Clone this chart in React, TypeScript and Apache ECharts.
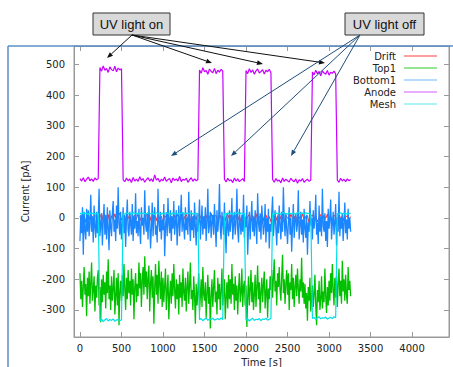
import React, { useEffect, useRef } from "react";
import * as echarts from "echarts";

// sampling steps of the recorded traces, seconds
const SAMPLE_STEP = 20;
const DENSE_STEP = 10;

const seriesNames = ["Drift", "Top1", "Bottom1", "Anode", "Mesh"];
const seriesColors = ["#ff2020", "#00c000", "#1a86ff", "#c800ff", "#00e0e8"];
const legendColors = ["#ff8080", "#70dd70", "#9fcfff", "#e090ff", "#90f0f0"];
const seriesWidths = [1, 1.3, 1.3, 1.2, 1.2];

const xTicks = [0, 500, 1000, 1500, 2000, 2500, 3000, 3500, 4000];
const yTicks = [-300, -200, -100, 0, 100, 200, 300, 400, 500];

// 20 s sampling
const drift = [
  5, -10, 8, -15, 3, 12, -6, 9, -20, 4,
  10, -8, 2, 14, -12, 6, -3, 11, -18, 7,
  -5, 13, -9, 4, 16, -7, 1, -14, 8, -2,
  11, -16, 5, 9, -4, 15, -10, 3, -22, 6,
  12, -6, 7, -13, 2, 10, -9, 14, -3, 5,
  -17, 8, 1, 12, -7, 4, -11, 9, -2, 13,
  -8, 6, -15, 3, 11, -5, 8, -19, 2, 10,
  -6, 14, -3, 7, -12, 5, 9, -9, 1, 15,
  -13, 4, 8, -7, 12, -2, 6, -16, 3, 11,
  -4, 9, -10, 13, 2, -8, 7, -14, 5, 10,
  -6, 3, 12, -11, 8, -3, 14, -7, 1, 9,
  -18, 6, 10, -5, 4, -12, 11, 2, -9, 7,
  13, -4, 5, -15, 8, 1, -8, 12, -2, 6,
  -11, 9, 3, -6, 14, -10, 5, 7, -17, 4,
  10, -3, 6, -13, 2, 11, -7, 8, -1, 12,
  -9, 5, -14, 9, 3, -6, 13, -4, 7, -10,
  2, 8, -5, 4,
];

// 10 s sampling
const top1 = [
  -180, -265, -205, -290, -225, -160, -250, -215, -320, -195,
  -255, -175, -280, -210, -145, -270, -235, -190, -305, -220,
  -260, -195, -170, -285, -225, -340, -200, -275, -185, -250,
  -210, -295, -175, -245, -135, -265, -220, -300, -190, -270,
  -230, -170, -315, -255, -195, -285, -180, -350, -240, -205,
  -270, -185, -255, -150, -230, -300, -195, -265, -170, -245,
  -205, -285, -165, -250, -200, -330, -225, -180, -275, -215,
  -255, -145, -230, -180, -290, -205, -160, -250, -125, -225,
  -175, -265, -195, -155, -305, -215, -170, -260, -190, -345,
  -230, -150, -250, -185, -280, -140, -215, -265, -175, -290,
  -195, -275, -220, -165, -300, -240, -185, -330, -250, -205,
  -280, -180, -255, -150, -235, -295, -200, -265, -215, -315,
  -185, -260, -210, -290, -165, -245, -270, -195, -305, -225,
  -175, -280, -220, -145, -265, -235, -300, -190, -255, -345,
  -215, -285, -240, -180, -305, -255, -200, -290, -160, -250,
  -270, -210, -325, -245, -185, -280, -225, -360, -255, -200,
  -290, -225, -170, -275, -240, -315, -195, -265, -215, -300,
  -240, -165, -285, -250, -200, -330, -260, -210, -295, -185,
  -265, -200, -280, -150, -250, -215, -300, -190, -270, -220,
  -315, -230, -180, -275, -245, -165, -290, -225, -205, -285,
  -220, -355, -260, -190, -285, -235, -170, -275, -210, -300,
  -250, -185, -290, -225, -155, -265, -210, -310, -240, -195,
  -275, -215, -175, -295, -245, -200, -325, -230, -265, -190,
  -235, -170, -260, -195, -135, -240, -205, -285, -180, -225,
  -160, -235, -270, -190, -120, -245, -200, -280, -215, -170,
  -250, -180, -300, -210, -235, -150, -265, -195, -290, -225,
  -185, -255, -165, -230, -280, -200, -240, -130, -260, -210,
  -280, -215, -295, -245, -335, -225, -270, -195, -305, -255,
  -220, -290, -250, -185, -285, -350, -235, -275, -205, -300,
  -265, -190, -295, -240, -275, -165, -255, -310, -225, -285,
  -205, -270, -180, -245, -150, -235, -285, -195, -260, -190,
  -290, -215, -165, -255, -205, -280, -140, -240, -200, -270,
  -185, -250, -280, -160, -235, -205, -255,
];

// 10 s sampling
const bottom1 = [
  -75, 10, -50, 35, -120, 20, -40, -70, 30, -45,
  25, -60, -20, 75, -45, 5, -80, 40, -30, -65,
  20, -50, -5, 95, -60, -25, 15, -90, -10, 45,
  -55, 10, -70, 35, -35, -105, 25, -30, -60, 15,
  55, -45, -5, -75, 40, -35, 100, -20, -55, 20,
  -70, -25, 35, -50, 10, -95, -5, 60, -40, -60,
  20, -20, -55, 45, -75, 5, -35, 80, -50, -10,
  -60, 30, -40, -85, 35, -25, 0, -55, 90, -20,
  -45, 15, -70, 40, -10, -100, -35, 50, -60, 5,
  35, -55, -25, -80, 95, -20, -45, 20, -70, -5,
  -40, 45, -125, -30, 15, -60, 65, -20, -50, 25,
  -75, 5, -35, 55, -55, -15, 25, -90, -25, 40,
  -60, -5, 75, -45, 15, -30, -70, 35, -40, 0,
  -55, 85, -20, -75, 25, -40, 5, -65, 50, -30,
  -90, 15, -45, -10, 60, -70, -20, 40, -55, 5,
  -35, 35, -75, -15, 95, -50, -25, 20, -65, -10,
  10, -55, 45, -30, -95, 25, -45, -5, 110, -35,
  -70, 20, -20, -55, 50, -40, -115, 15, -30, -60,
  25, -45, -10, 65, -70, -25, 20, -55, -15, 95,
  -40, -80, 30, -20, -55, 10, -45, 75, -65, -5,
  -30, 40, -120, -35, 20, -70, -5, 55, -45, 0,
  -60, 25, -25, -85, 80, -15, -45, 15, -70, 40,
  -10, -55, -25, 45, -80, 0, -45, 30, -100, -20,
  -45, 15, 70, -60, -15, 25, -35, -90, 5, -50,
  40, -25, -70, 20, -45, 100, -5, -60, 15, -35,
  -85, -15, 35, -55, 0, -110, -25, 45, -65, -5,
  15, -45, -20, 90, -70, -25, 20, -55, -5, -80,
  30, -35, -65, 10, -120, -15, -45, 55, -25, 0,
  -70, 25, -35, -5, 75, -55, -15, -85, 40, -45,
  5, -60, 95, -25, -45, 15, -75, -10, -95, 30,
  -35, -5, 60, -70, -20, 20, -55, -15, 45, -90,
  -5, -45, 85, -60, 0, -35, 15, -75, -20, 50,
  -50, -5, -70, 30, -35, 0, -45,
];

// 20 s sampling
const anode = [
  // off
  128, 120, 131, 118, 126, 133, 121, 127, 119, 130, 124, 128,
  // on
  490, 478, 495, 481, 487, 474, 492, 483, 479, 494, 476, 488, 482, 486,
  // off
  124, 118, 130, 121, 127, 115, 132, 120, 126, 119,
  134, 122, 128, 116, 125, 131, 120, 127, 118, 140,
  123, 129, 117, 126, 121, 133, 119, 125, 128, 114,
  130, 122, 127, 120, 135, 118, 126, 123, 129, 116,
  124, 131, 119, 127, 121, 125,
  // on
  482, 471, 489, 476, 480, 468, 485, 477, 473, 487, 470, 481, 475, 484, 478,
  // off
  126, 117, 129, 121, 124, 115, 130, 120, 127, 118, 123, 128, 119,
  // on
  480, 470, 486, 474, 482, 468, 479, 485, 472, 477, 483, 469, 481, 476, 484, 473,
  // off
  125, 116, 128, 120, 123, 114, 130, 119, 126, 121, 117, 129,
  122, 118, 127, 113, 124, 120, 128, 116, 122, 126, 119, 123,
  // on
  475, 466, 481, 470, 477, 463, 479, 472, 468, 480, 465, 474, 471, 478, 469,
  // off
  124, 116, 129, 120, 126, 118, 127, 121, 125,
];

// 20 s sampling
const mesh = [
  16, 12, 18, 14, 15, 11, 17, 13, 16, 12, 15, 14,
  -335, -330, -338, -332, -328, -336, -331, -334, -329, -337, -333, -330, -335, -332,
  15, 12, 17, 13, 16, 11, 18, 14, 15, 12,
  17, 13, 16, 14, 12, 18, 15, 13, 16, 11,
  17, 14, 15, 12, 16, 13, 18, 14, 15, 11,
  17, 13, 16, 12, 15, 14, 18, 12, 16, 13,
  15, 17, 12, 14, 16, 13,
  -332, -328, -335, -330, -326, -334, -329, -331, -327, -333, -330, -328, -332, -326, -331,
  14, 12, 17, 13, 16, 11, 15, 14, 18, 12, 16, 13, 15,
  -333, -329, -336, -331, -327, -334, -330, -332, -328, -335, -329, -331, -327, -333, -330, -328,
  15, 12, 17, 13, 16, 11, 18, 14, 15, 12, 17, 13,
  16, 14, 12, 18, 15, 13, 16, 11, 17, 14, 15, 12,
  -328, -324, -331, -326, -322, -329, -325, -327, -323, -330, -326, -324, -328, -322, -325,
  14, 12, 17, 13, 16, 11, 15, 14, 16,
];

const seriesValues = [drift, top1, bottom1, anode, mesh];
const seriesSteps = [SAMPLE_STEP, DENSE_STEP, DENSE_STEP, SAMPLE_STEP, SAMPLE_STEP];

function arrow(x0: number, y0: number, x1: number, y1: number, color: string) {
  const dx = x1 - x0;
  const dy = y1 - y0;
  const len = Math.hypot(dx, dy);
  const ux = dx / len;
  const uy = dy / len;
  const L = 6;
  const W = 2.4;
  const bx = x1 - ux * L;
  const by = y1 - uy * L;
  return [
    { type: "line", z: 100, shape: { x1: x0, y1: y0, x2: bx, y2: by }, style: { stroke: color, lineWidth: 1 } },
    {
      type: "polygon",
      z: 100,
      shape: { points: [[x1, y1], [bx - uy * W, by + ux * W], [bx + uy * W, by - ux * W]] },
      style: { fill: color },
    },
  ];
}

export default function App() {
  const ref = useRef<HTMLDivElement>(null);
  useEffect(() => {
    if (!ref.current) return;
    const chart = echarts.init(ref.current, undefined, { renderer: "svg" });
    const font = "DejaVu Sans";
    const axisGray = "#9a9a9a";

    const legendGraphics: any[] = [];
    seriesNames.forEach((name, i) => {
      const y = 56 + 12 * i;
      legendGraphics.push({
        type: "text",
        z: 100,
        style: { x: 396, y, text: name, align: "right", verticalAlign: "middle", fontFamily: font, fontSize: 10, fill: "#222" },
      });
      legendGraphics.push({
        type: "line",
        z: 100,
        shape: { x1: 404, y1: y, x2: 437, y2: y },
        style: { stroke: legendColors[i], lineWidth: 1.5 },
      });
    });

    const onColor = "#111";
    const offColor = "#1f4e79";
    const annotations: any[] = [
      { type: "rect", z: 100, shape: { x: 93, y: 13, width: 77, height: 22 }, style: { fill: "#d9d9d9", stroke: "#333", lineWidth: 1 } },
      {
        type: "text",
        z: 101,
        style: { x: 131.5, y: 24, text: "UV light on", align: "center", verticalAlign: "middle", fontFamily: "Liberation Sans", fontSize: 13, fill: "#111" },
      },
      { type: "rect", z: 100, shape: { x: 345, y: 13, width: 79, height: 22 }, style: { fill: "#d9d9d9", stroke: "#333", lineWidth: 1 } },
      {
        type: "text",
        z: 101,
        style: { x: 384.5, y: 24, text: "UV light off", align: "center", verticalAlign: "middle", fontFamily: "Liberation Sans", fontSize: 13, fill: "#111" },
      },
      ...arrow(132, 35, 107, 58, onColor),
      ...arrow(132, 35, 212, 63, onColor),
      ...arrow(132, 35, 263, 64, onColor),
      ...arrow(132, 35, 325, 63, onColor),
      ...arrow(360, 35, 171, 156, offColor),
      ...arrow(360, 35, 231, 156, offColor),
      ...arrow(360, 35, 291, 156, offColor),
      { type: "line", z: 99, shape: { x1: 8, y1: 46, x2: 453, y2: 46 }, style: { stroke: "#5a8fc8", lineWidth: 1.5 } },
      { type: "line", z: 99, shape: { x1: 8, y1: 46, x2: 8, y2: 367 }, style: { stroke: "#5a8fc8", lineWidth: 1.5 } },
    ];

    const tickStyle = { inside: true, length: 5, lineStyle: { color: axisGray, width: 1 } };
    const plain = (v: number) => String(v);

    chart.setOption({
      animation: false,
      backgroundColor: "#fff",
      grid: {
        left: 74,
        top: 46,
        right: 4,
        bottom: 30,
        containLabel: false,
        outerBoundsMode: "none",
        show: true,
        borderColor: axisGray,
        borderWidth: 1,
        backgroundColor: "transparent",
      },
      xAxis: [
        {
          type: "value",
          min: -72,
          max: 4445,
          position: "bottom",
          name: "Time [s]",
          nameLocation: "middle",
          nameGap: 18,
          nameTextStyle: { fontFamily: font, fontSize: 10, color: "#222" },
          axisLine: { show: true, onZero: false, lineStyle: { color: axisGray } },
          axisTick: { ...tickStyle, customValues: xTicks },
          axisLabel: { customValues: xTicks, formatter: plain, margin: 6, fontFamily: font, fontSize: 10, color: "#222" },
          splitLine: { show: false },
        },
        {
          type: "value",
          min: -72,
          max: 4445,
          position: "top",
          axisLine: { show: true, onZero: false, lineStyle: { color: axisGray } },
          axisTick: { ...tickStyle, customValues: xTicks },
          axisLabel: { show: false },
          splitLine: { show: false },
        },
      ],
      yAxis: [
        {
          type: "value",
          min: -388,
          max: 560,
          position: "left",
          name: "Current [pA]",
          nameLocation: "middle",
          nameGap: 44,
          nameRotate: 90,
          nameTextStyle: { fontFamily: font, fontSize: 10, color: "#222" },
          axisLine: { show: true, onZero: false, lineStyle: { color: axisGray } },
          axisTick: { ...tickStyle, customValues: yTicks },
          axisLabel: { customValues: yTicks, formatter: plain, margin: 9, fontFamily: font, fontSize: 10, color: "#222" },
          splitLine: { show: false },
        },
        {
          type: "value",
          min: -388,
          max: 560,
          position: "right",
          axisLine: { show: true, onZero: false, lineStyle: { color: axisGray } },
          axisTick: { ...tickStyle, customValues: yTicks },
          axisLabel: { show: false },
          splitLine: { show: false },
        },
      ],
      series: seriesNames.map((name, k) => ({
        type: "line",
        name,
        xAxisIndex: 0,
        yAxisIndex: 0,
        showSymbol: false,
        symbol: "none",
        silent: true,
        data: seriesValues[k].map((v, i) => [i * seriesSteps[k], v]),
        lineStyle: { color: seriesColors[k], width: seriesWidths[k] },
        itemStyle: { color: seriesColors[k] },
      })),
      graphic: [...legendGraphics, ...annotations],
    });
    return () => chart.dispose();
  }, []);
  return <div ref={ref} style={{ position: "fixed", left: 0, top: 0, width: 453, height: 367, background: "#fff" }} />;
}
